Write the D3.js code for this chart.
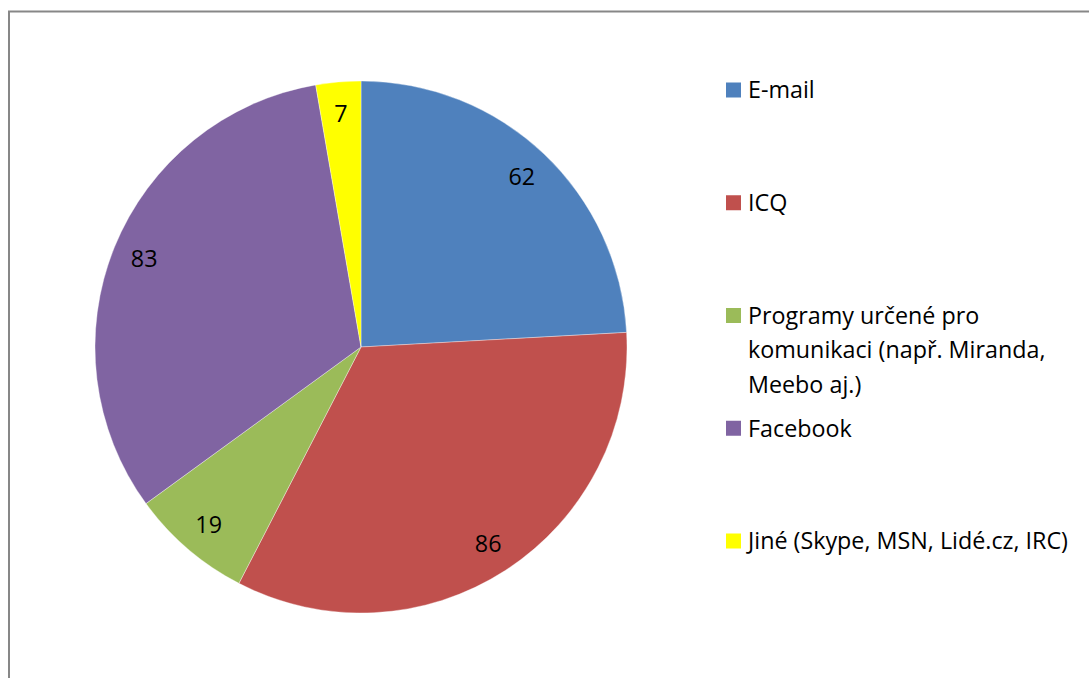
<!DOCTYPE html>
<html>
<head>
<meta charset="utf-8">
<script src="https://cdn.jsdelivr.net/npm/d3@7"></script>
<style>
  body { margin: 0; background: #fff; }
  svg { display: block; font-family: "Open Sans", sans-serif; }
</style>
</head>
<body>
<svg width="1089" height="678"></svg>
<script>
// data
var categories = [
    "E-mail",
    "ICQ",
    "Programy určené pro\nkomunikaci (např. Miranda,\nMeebo aj.)",
    "Facebook",
    "Jiné (Skype, MSN, Lidé.cz, IRC)"
];
var values = [62, 86, 19, 83, 7];
var colors = ["#4F81BD", "#C0504D", "#9BBB59", "#8064A2", "#FFFF00"];

var svg = d3.select('svg'),
    width = +svg.attr("width"),
    height = +svg.attr("height");

// chart frame (runs off the right and bottom edge)
svg.append('rect')
    .attr('x', 9)
    .attr('y', 11.5)
    .attr('width', width + 20)
    .attr('height', height + 20)
    .attr('fill', '#fff')
    .attr('stroke', '#878787')
    .attr('stroke-width', 2);

var data = categories.map((c, i) => ({name: c, value: values[i], color: colors[i]}));

var cx = 361, cy = 347, radius = 266;
var fontSize = 23.3;

var pie = d3.pie()
    .sort(null)
    .value(d => d.value);

var arc = d3.arc()
    .innerRadius(0)
    .outerRadius(radius);

var labelArc = d3.arc()
    .innerRadius(234)
    .outerRadius(234);

var g = svg.append('g')
    .attr('transform', `translate(${cx},${cy})`);

var arcs = pie(data);

g.selectAll('path')
    .data(arcs)
    .enter().append('path')
    .attr('d', arc)
    .attr('fill', d => d.data.color)
    .attr('stroke', 'rgba(255,255,255,0.6)')
    .attr('stroke-width', 0.6);

// value labels
g.selectAll('text.val')
    .data(arcs)
    .enter().append('text')
    .attr('class', 'val')
    .attr('transform', d => `translate(${labelArc.centroid(d)})`)
    .attr('text-anchor', 'middle')
    .attr('dy', '0.36em')
    .attr('font-size', fontSize)
    .attr('fill', '#000')
    .text(d => d.data.value);

// legend: first line of each entry sits on an even grid
var legendY = d3.scalePoint()
    .domain(categories)
    .range([90, 541]);

var lineHeight = 34.5;
var legend = svg.append('g');

var item = legend.selectAll('g')
    .data(data)
    .enter().append('g')
    .attr('transform', d => `translate(726,${legendY(d.name)})`);

item.append('rect')
    .attr('x', 0)
    .attr('y', -7.5)
    .attr('width', 15)
    .attr('height', 15)
    .attr('fill', d => d.color);

item.append('text')
    .attr('x', 22)
    .attr('font-size', fontSize)
    .attr('fill', '#000')
    .selectAll('tspan')
    .data(d => d.name.split('\n'))
    .enter().append('tspan')
    .attr('x', 22)
    .attr('y', (d, i) => i * lineHeight)
    .attr('dy', '0.36em')
    .text(d => d);
</script>
</body>
</html>
